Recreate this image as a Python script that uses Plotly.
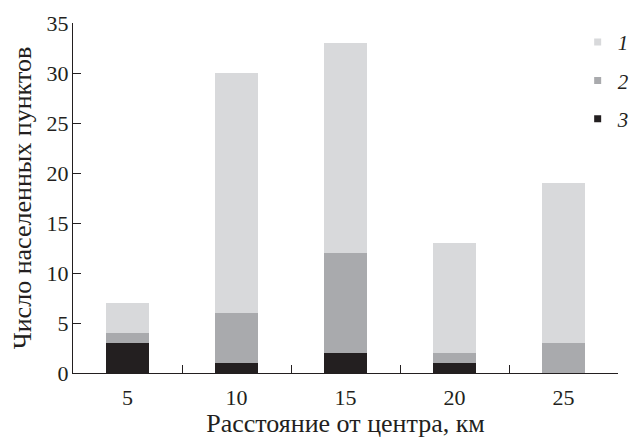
import plotly.graph_objects as go

categories = ["5", "10", "15", "20", "25"]
s3 = [3, 1, 2, 1, 0]
s2 = [1, 5, 10, 1, 3]
s1 = [3, 24, 21, 11, 16]
names = ["1", "2", "3"]
colors = {"1": "#d8d9db", "2": "#a9aaad", "3": "#231f20"}

FONT = "Liberation Serif"

fig = go.Figure()
for name, vals in [("3", s3), ("2", s2), ("1", s1)]:
    fig.add_trace(go.Bar(x=categories, y=vals, name=name, width=0.4,
                         marker=dict(color=colors[name], line=dict(width=0)),
                         showlegend=False))
for name in names:
    fig.add_trace(go.Scatter(x=[None], y=[None], mode="markers", name=name,
                             legendgroup=name,
                             marker=dict(symbol="square", size=7, color=colors[name])))

fig.update_layout(
    barmode="stack",
    width=639, height=440,
    margin=dict(l=65, r=29, t=15, b=75, autoexpand=False),
    plot_bgcolor="white", paper_bgcolor="white",
    font=dict(family=FONT, size=22, color="#231f20"),
    legend=dict(x=0.926, y=1.003, xanchor="left", yanchor="top",
                font=dict(family=FONT, size=21, style="italic"),
                bgcolor="rgba(0,0,0,0)", tracegroupgap=8,
                itemwidth=30),
    xaxis=dict(type="category", range=[-0.5, 4.5], tickson="boundaries",
               ticks="inside", ticklen=8, tickcolor="#231f20",
               showline=True, linecolor="#231f20", linewidth=1.2,
               showgrid=False, zeroline=False, automargin=False,
               title=dict(text="Расстояние от центра, км", standoff=0),
               ticklabelstandoff=4),
    yaxis=dict(range=[0, 35], dtick=5, ticks="inside", ticklen=8,
               tickcolor="#231f20", showline=True, linecolor="#231f20",
               linewidth=1.2, showgrid=False, zeroline=False, automargin=False,
               title=dict(text="Число населенных пунктов", standoff=23),
               ticklabelstandoff=-1),
)

fig.write_html("out.html")
